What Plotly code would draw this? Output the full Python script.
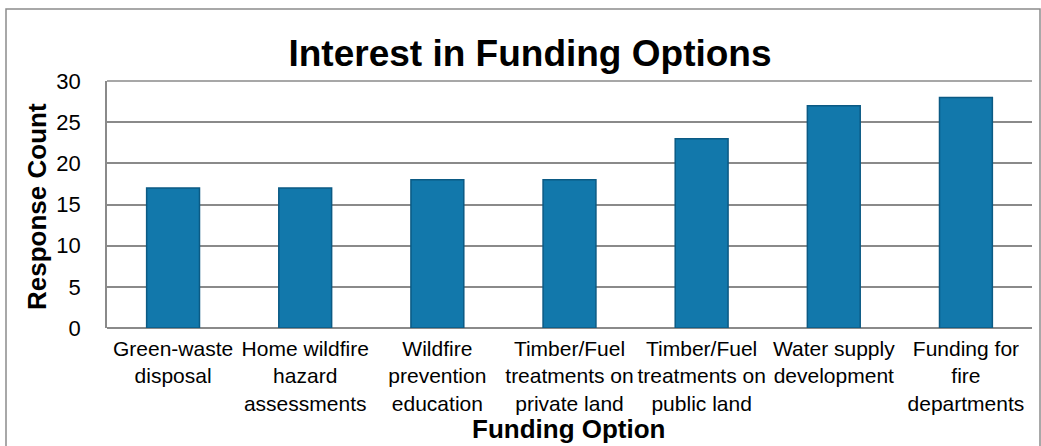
import plotly.graph_objects as go

categories = [
    "Green-waste<br>disposal",
    "Home wildfire<br>hazard<br>assessments",
    "Wildfire<br>prevention<br>education",
    "Timber/Fuel<br>treatments on<br>private land",
    "Timber/Fuel<br>treatments on<br>public land",
    "Water supply<br>development",
    "Funding for<br>fire<br>departments",
]
counts = [17, 17, 18, 18, 23, 27, 28]
y_ticks = [0, 5, 10, 15, 20, 25, 30]

W, H = 1041, 446
L, R, T, B = 107, 1032, 81, 328
pw, ph = R - L, B - T

def px_x(x):
    return (x - L) / pw

def px_y(y):
    return (B - y) / ph

FONT = "Liberation Sans, Arial, sans-serif"
GRID = "#8a8a8a"

fig = go.Figure()
fig.add_trace(go.Bar(
    x=categories, y=counts,
    marker=dict(color="#1278ab", line=dict(color="#0b5a84", width=1.5)),
    width=0.4,
))

fig.update_layout(
    width=W, height=H,
    margin=dict(l=L, r=W - R, t=T, b=H - B, autoexpand=False),
    paper_bgcolor="white", plot_bgcolor="white",
    showlegend=False,
    font=dict(family=FONT, color="black"),
    title=dict(text="<b>Interest in Funding Options</b>", x=530 / W, xref="container",
               xanchor="center", y=1 - 53 / H, yref="container", yanchor="middle",
               font=dict(size=37, family=FONT, color="black")),
    xaxis=dict(showgrid=False, tickfont=dict(size=21, family=FONT, color="black"),
               showline=False, ticks="", ticklabelstandoff=6, automargin=False),
    yaxis=dict(range=[0, 30], tickvals=y_ticks, showgrid=True, gridcolor=GRID, gridwidth=1.5,
               zeroline=True, zerolinecolor=GRID, zerolinewidth=1.5,
               showline=True, linecolor=GRID, linewidth=1.5,
               tickfont=dict(size=22, family=FONT, color="black"), ticks="",
               ticklabelstandoff=20, automargin=False),
    bargap=0.6,
)

fig.add_shape(type="line", xref="paper", yref="paper", x0=0, x1=1, y0=1, y1=1,
              line=dict(color=GRID, width=1.5))
fig.add_shape(type="rect", xref="paper", yref="paper",
              x0=px_x(6), x1=px_x(1040), y0=px_y(460), y1=px_y(9),
              line=dict(color="#8c8c8c", width=1.5), layer="below")

fig.add_annotation(text="<b>Response Count</b>", xref="paper", yref="paper",
                   x=px_x(37), y=px_y(207), textangle=-90, showarrow=False,
                   font=dict(size=26, family=FONT, color="black"),
                   xanchor="center", yanchor="middle")
fig.add_annotation(text="<b>Funding Option</b>", xref="paper", yref="paper",
                   x=px_x(569), y=px_y(429), showarrow=False,
                   font=dict(size=26, family=FONT, color="black"),
                   xanchor="center", yanchor="middle")

fig.write_html("out.html", config={"displayModeBar": False},
               post_script="document.body.style.margin='0px';document.body.style.overflow='hidden';")
